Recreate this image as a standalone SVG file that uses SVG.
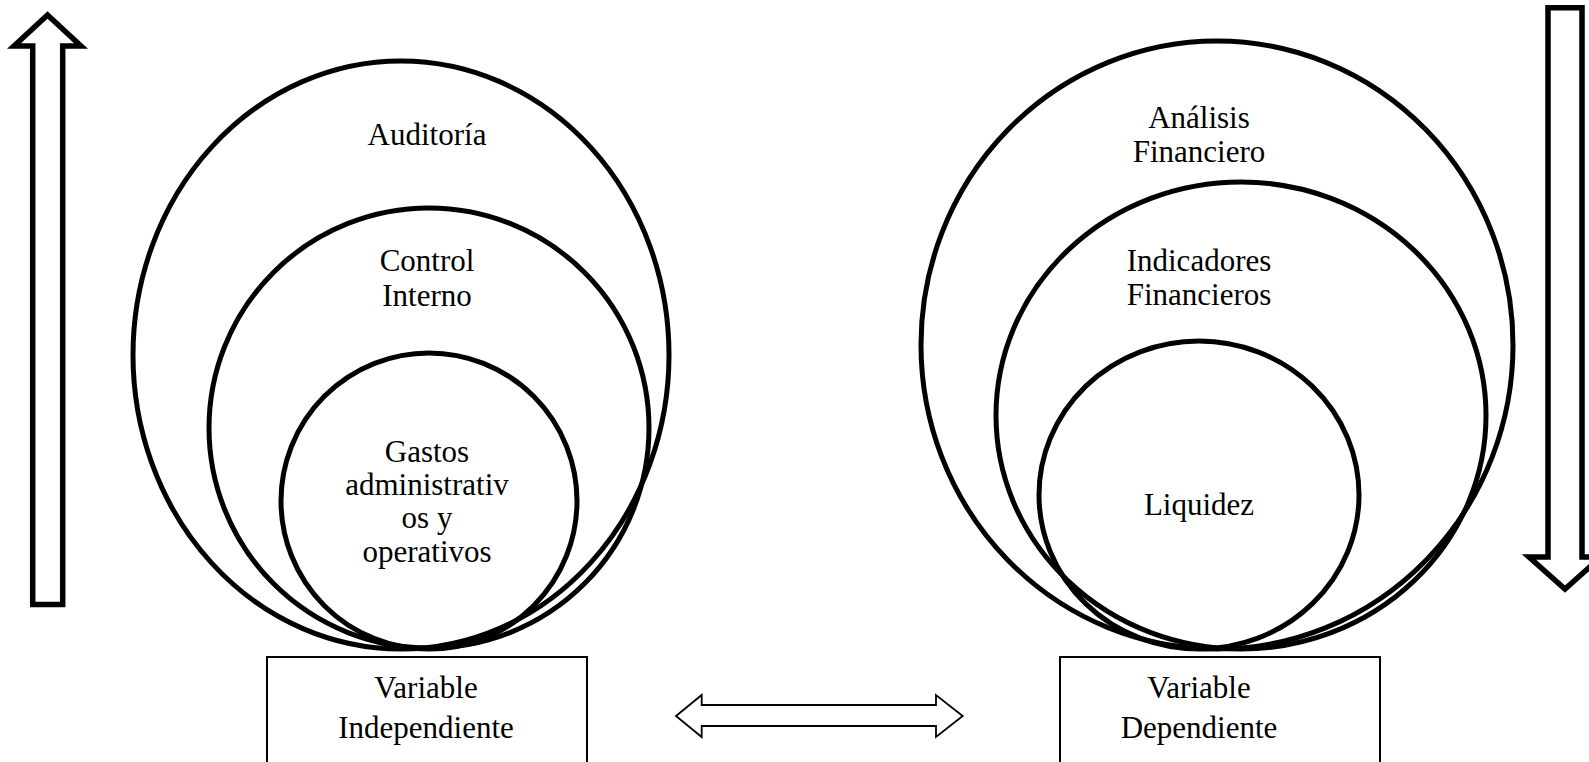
<svg xmlns="http://www.w3.org/2000/svg" width="1589" height="762" viewBox="0 0 1589 762">
<style>
.c{fill:none;stroke:#000;stroke-width:5}
.b{fill:#fff;stroke:#000;stroke-width:2}
.a{fill:#fff;stroke:#000;stroke-width:5.5;stroke-linejoin:miter}
.d{fill:#fff;stroke:#000;stroke-width:1.8}
text{font-family:"Liberation Serif","Times New Roman",serif;font-size:31px;fill:#000;text-anchor:middle}
</style>
<rect width="1589" height="762" fill="#fff"/>
<g id="arrow-up"><path class="a" d="M47.5 15 L81 46 L62.7 46 L62.7 604.5 L32.7 604.5 L32.7 46 L14 46 Z"/></g>
<g id="arrow-down"><path class="a" d="M1548 7.7 L1582 7.7 L1582 557 L1601 557 L1565 589 L1529 557 L1548 557 Z"/></g>
<g id="auditoria"><ellipse class="c" cx="401" cy="355" rx="268" ry="294"/><text x="427" y="145">Auditoría</text></g>
<g id="control-interno"><circle class="c" cx="429" cy="428" r="220"/><text x="427" y="271">Control</text><text x="427" y="306">Interno</text></g>
<g id="gastos"><circle class="c" cx="429" cy="501" r="148"/><text x="427" y="462">Gastos</text><text x="427" y="495">administrativ</text><text x="427" y="528">os y</text><text x="427" y="562">operativos</text></g>
<g id="analisis"><ellipse class="c" cx="1217" cy="345" rx="296" ry="304"/><text x="1199" y="128">Análisis</text><text x="1199" y="162">Financiero</text></g>
<g id="indicadores"><ellipse class="c" cx="1241" cy="415.5" rx="245" ry="233.5"/><text x="1199" y="271">Indicadores</text><text x="1199" y="305">Financieros</text></g>
<g id="liquidez"><ellipse class="c" cx="1199" cy="495" rx="160" ry="154"/><text x="1199" y="515">Liquidez</text></g>
<g id="var-indep"><rect class="b" x="267" y="657" width="320" height="110"/><text x="426" y="698">Variable</text><text x="426" y="738">Independiente</text></g>
<g id="var-dep"><rect class="b" x="1060" y="657" width="320" height="110"/><text x="1199" y="698">Variable</text><text x="1199" y="738">Dependiente</text></g>
<g id="connectors"><path class="d" d="M676 716 L701.7 695 L701.7 705 L936 705 L936 695 L962.7 716 L936 737 L936 726 L701.7 726 L701.7 737 Z"/></g>
</svg>
